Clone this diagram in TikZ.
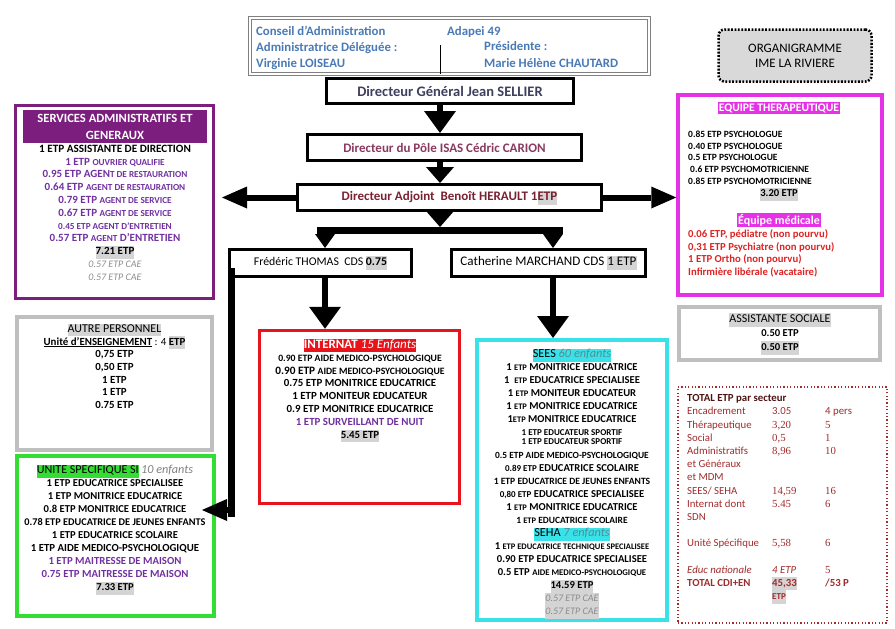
\documentclass[tikz,border=0pt]{standalone}
\usepackage{fontspec}
\setmainfont{Carlito}
\newfontfamily\numfont{Liberation Serif}
\usetikzlibrary{arrows.meta, positioning}

\definecolor{adminpurple}{HTML}{7B1E7E}
\definecolor{txtpurple}{HTML}{7030A0}
\definecolor{magentabox}{HTML}{E632E6}
\definecolor{internatred}{HTML}{E8141B}
\definecolor{seescyan}{HTML}{38E2E8}
\definecolor{seesteal}{HTML}{4F8F96}
\definecolor{unitegreen}{HTML}{33DD33}
\definecolor{boxgray}{HTML}{BFBFBF}
\definecolor{hlgray}{HTML}{D4D4D4}
\definecolor{conseilblue}{HTML}{4A7AB5}
\definecolor{dgslate}{HTML}{3F3F5E}
\definecolor{polemauve}{HTML}{8A3A60}
\definecolor{adjred}{HTML}{7A2131}
\definecolor{medred}{HTML}{DD2323}
\definecolor{totred}{HTML}{A22B2B}
\definecolor{totdark}{HTML}{4D1414}
\definecolor{caegray}{HTML}{8C8C8C}

\newcommand{\fs}[2]{\fontsize{#1}{#2}\selectfont}
\newcommand{\hl}[2][hlgray]{{\setlength{\fboxsep}{0pt}\colorbox{#1}{\strut #2}}}
\newcommand{\sm}[1]{{\fs{9.2}{13}#1}}
\newcommand{\etp}{{\fs{8.5}{13}ETP}}
\newcommand{\cae}{{\color{caegray}\mdseries\itshape\fs{10}{13}0.57 ETP CAE}}
\newcommand{\trow}[3]{\makebox[85pt][l]{#1}\makebox[53pt][l]{#2}#3}

\begin{document}
\begin{tikzpicture}[x=1pt, y=-1pt,
  blackbox/.style={draw, line width=3pt, fill=white, inner sep=0pt, font=\fs{13}{14}\bfseries},
  colbox/.style={draw=#1, line width=3.5pt, inner sep=0pt},
  lst/.style={align=center, inner sep=0pt, anchor=north, font=\fs{10.6}{13}\bfseries},
  fatarrow/.style={line width=6pt, -{Triangle[width=32pt,length=22pt,line width=0pt]}},
  midarrow/.style={line width=6pt, -{Triangle[width=28pt,length=16pt,line width=0pt]}},
  smallarrow/.style={line width=6pt, -{Triangle[width=20pt,length=14pt,line width=0pt]}},
  sidearrow/.style={line width=6pt, -{Triangle[width=22pt,length=25pt,line width=0pt]}},
  fatline/.style={line width=7pt},
]
\useasboundingbox (0,0) rectangle (895,629);

% Conseil d'administration
\node[draw=gray, double=white, double distance=2pt, line width=0.8pt, minimum width=399, minimum height=56] (conseil) at (449.5,46) {};
\node[anchor=north west, align=left, inner sep=0pt, text=conseilblue, font=\fs{12.8}{16}\bfseries] (conseilL) at (256,23.6) {\strut Conseil d’Administration\\Administratrice Déléguée :\\Virginie LOISEAU};
\node[anchor=base west, inner sep=0pt, text=conseilblue, font=\fs{12.8}{16}\bfseries] (adapei) at (447,35) {Adapei 49};
\node[anchor=base west, inner sep=0pt, text=conseilblue, font=\fs{12.8}{16}\bfseries] (presid) at (484,50) {Présidente :};
\node[anchor=base west, inner sep=0pt, text=conseilblue, font=\fs{12.8}{16}\bfseries] (presnom) at (484,67) {Marie Hélène CHAUTARD};

% Direction
\node[blackbox, minimum width=247, minimum height=25, text=dgslate, font=\fs{14.5}{15}\bfseries] (dg) at (450,91) {Directeur Général Jean SELLIER};
\node[blackbox, minimum width=274, minimum height=26, text=polemauve] (pole) at (444.5,147.5) {Directeur du Pôle ISAS Cédric CARION};
\node[blackbox, minimum width=304, minimum height=26, text=adjred] (adjoint) at (449.5,197.5) {Directeur Adjoint\ \ Benoît HERAULT 1\hl{ETP}};
\node[blackbox, minimum width=182, minimum height=27, font=\fs{11.8}{14}] (thomas) at (320.5,263) {Frédéric THOMAS\ \ CDS \hl{\bfseries 0.75}};
\node[blackbox, minimum width=194, minimum height=27, font=\fs{13.1}{14}] (marchand) at (548.5,263) {Catherine MARCHAND CDS \hl{1 ETP}};

\draw (440,45) -- (conseil.south -| 440,0);

% Axes
\coordinate (axis) at (440,0);
\coordinate (split) at (440,230);
\coordinate (barW) at (317,230);
\coordinate (barE) at (563,230);
\coordinate (tcol) at (325,0);
\coordinate (mcol) at (553,0);
\coordinate (elbow) at (231,510);

% Services administratifs
\node[colbox=adminpurple, line width=3pt, minimum width=198, minimum height=193] (admin) at (114.5,202) {};
\node[fill=adminpurple, text=white, minimum width=184, minimum height=33, inner sep=0pt, align=center, font=\fs{12.6}{17}\bfseries] (adminhead) at (115,126.5) {SERVICES ADMINISTRATIFS ET\\GENERAUX};
\node[lst, text=txtpurple, font=\fs{11}{12.8}\bfseries] (adminlist) at (115,143.2) {\strut{\color{black}\fs{11.2}{12.8}1 ETP ASSISTANTE DE DIRECTION}\\
  1 ETP \sm{OUVRIER QUALIFIE}\\
  0.95 ETP AGEN\sm{T DE RESTAURATION}\\
  0.64 ETP \sm{AGENT DE RESTAURATION}\\
  0.79 ETP \sm{AGENT DE SERVICE}\\
  0.67 ETP \sm{AGENT DE SERVICE}\\
  \sm{0.45 ETP AGENT D’ENTRETIEN}\\
  0.57 ETP \sm{AGENT} D’ENTRETIEN\\
  {\color{black}\hl{7.21 ETP}}\\
  \cae\\
  \cae};

% Autre personnel
\node[colbox=boxgray, line width=4pt, minimum width=195, minimum height=133] (autre) at (114.5,383.5) {};
\node[lst, font=\fs{10.9}{12.7}\bfseries] (autrelist) at (114.5,323.3) {\strut\hl{\mdseries\fs{12}{12.7}AUTRE PERSONNEL}\\
  \underline{Unité d’ENSEIGNEMENT}{\mdseries\ : 4 }\hl{ETP}\\
  0,75 ETP\\ 0,50 ETP\\ 1 ETP\\ 1 ETP\\ 0.75 ETP};

% Unite specifique
\node[colbox=unitegreen, line width=4pt, minimum width=197, minimum height=160] (unite) at (115.5,536) {};
\node[lst] (unitelist) at (115,464.4) {\strut\hl[unitegreen]{\mdseries\fs{12.1}{13}UNITE SPECIFIQUE SI} {\color{gray}\mdseries\itshape\fs{12.2}{13}10 enfants}\\
  1 ETP EDUCATRICE SPECIALISEE\\
  1 ETP MONITRICE EDUCATRICE\\
  0.8 ETP MONITRICE EDUCATRICE\\
  {\fs{10.3}{13}0.78 ETP EDUCATRICE DE JEUNES ENFANTS}\\
  1 ETP EDUCATRICE SCOLAIRE\\
  {\fs{10.8}{13}1 ETP AIDE MEDICO-PSYCHOLOGIQUE}\\
  {\color{txtpurple}\fs{10.8}{13}1 ETP MAITRESSE DE MAISON}\\
  {\color{txtpurple}\fs{10.8}{13}0.75 ETP MAITRESSE DE MAISON}\\
  \hl{7.33 ETP}};

% Internat
\node[colbox=internatred, minimum width=200, minimum height=173] (internat) at (359.5,417) {};
\node[lst, font=\fs{10.9}{12.9}\bfseries] (internatlist) at (360,339) {\strut\hl[internatred]{\color{white}\fs{13}{13}INTERNAT {\mdseries\itshape 15 Enfants}}\\
  {\fs{9.7}{13}0.90 ETP AIDE MEDICO-PSYCHOLOGIQUE}\\
  {\fs{11.3}{13}0.90 ETP} {\fs{9.7}{13}AIDE MEDICO-PSYCHOLOGIQUE}\\
  0.75 ETP MONITRICE EDUCATRICE\\
  1 ETP MONITEUR EDUCATEUR\\
  0.9 ETP MONITRICE EDUCATRICE\\
  {\color{txtpurple}1 ETP SURVEILLANT DE NUIT}\\
  \hl{5.45 ETP}};

% SEES / SEHA
\node[colbox=seescyan, line width=4pt, minimum width=190, minimum height=280] (sees) at (572,480) {};
\node[lst] (seeslist) at (572,348.3) {\strut\hl[seescyan]{\fs{12.3}{13}\mdseries SEES {\itshape\color{seesteal}60 enfants}}\\
  1 \etp\ MONITRICE EDUCATRICE\\
  1\ \ \etp\ EDUCATRICE SPECIALISEE\\
  1 \etp\ MONITEUR EDUCATEUR\\
  1 \etp\ MONITRICE EDUCATRICE\\
  1\etp\ MONITRICE EDUCATRICE\\
  {\fs{9}{13}1 ETP EDUCATEUR SPORTIF}\\[-4pt]
  {\fs{9}{13}1 ETP EDUCATEUR SPORTIF}\\[1pt]
  {\fs{9.4}{13}0.5 ETP AIDE MEDICO-PSYCHOLOGIQUE}\\
  {\fs{9}{13}0.89 ETP} EDUCATRICE SCOLAIRE\\
  {\fs{9.6}{13}1 ETP EDUCATRICE DE JEUNES ENFANTS}\\
  {\fs{9}{13}0,80 ETP} EDUCATRICE SPECIALISEE\\
  1 \etp\ MONITRICE EDUCATRICE\\
  {\fs{9.5}{13}1 \etp\ EDUCATRICE SCOLAIRE}\\
  \hl[seescyan]{\fs{12.3}{13}\mdseries SEHA {\itshape\color{seesteal}7 enfants}}\\
  1 {\fs{8.5}{13}ETP EDUCATRICE TECHNIQUE SPECIALISEE}\\
  0.90 ETP EDUCATRICE SPECIALISEE\\
  0.5 ETP {\fs{8.7}{13}AIDE MEDICO-PSYCHOLOGIQUE}\\
  \hl{14.59 ETP}\\
  \hl{\cae}\\
  \hl{\cae}};

% Organigramme
\node[draw, fill=gray!30, rounded corners=6pt, line width=2.5pt, dash pattern=on 1.8pt off 1.6pt, minimum width=153, minimum height=52, align=center, font=\fs{12.9}{15}] (title) at (795,55.5) {ORGANIGRAMME\\IME LA RIVIERE};

% Equipe therapeutique
\node[colbox=magentabox, minimum width=204, minimum height=200] (therap) at (780,195) {};
\node[fill=magentabox, text=white, inner sep=1pt, font=\fs{11.6}{13}\bfseries] (theraphead) at (779,108) {EQUIPE THERAPEUTIQUE};
\node[lst, anchor=north west, align=left, font=\fs{9.5}{11.8}\bfseries] (theraplist) at (688,128.8) {\strut 0.85 ETP PSYCHOLOGUE\\
  0.40 ETP PSYCHOLOGUE\\
  0.5 ETP PSYCHOLOGUE\\
  \hspace{2pt}0.6 ETP PSYCHOMOTRICIENNE\\
  0.85 ETP PSYCHOMOTRICIENNE};
\node[inner sep=0pt, font=\fs{10.6}{13}\bfseries] (theraptot) at (779,194) {\hl{3.20 ETP}};
\node[fill=magentabox, text=white, inner sep=1pt, font=\fs{12}{14}\bfseries] (medhead) at (779,220) {Équipe médicale};
\node[lst, anchor=north west, align=left, text=medred, font=\fs{10.7}{12.7}\bfseries] (medlist) at (688,228.4) {\strut 0.06 ETP, pédiatre (non pourvu)\\
  0,31 ETP Psychiatre (non pourvu)\\
  1 ETP Ortho (non pourvu)\\
  Infirmière libérale (vacataire)};

% Assistante sociale
\node[colbox=boxgray, line width=4pt, minimum width=201, minimum height=53] (social) at (779.5,333.5) {};
\node[lst, font=\fs{10.6}{14}\bfseries] (sociallist) at (780,312.6) {\strut\hl{\mdseries\fs{12}{14}ASSISTANTE SOCIALE}\\ 0.50 ETP\\ \hl{0.50 ETP}};

% Total
\node[draw=totred, line width=1.6pt, dash pattern=on 1.2pt off 2.2pt, minimum width=209, minimum height=236] (total) at (782.5,505) {};
\node[lst, anchor=north west, align=left, text=totred, font=\fs{10.8}{13.2}] (totallist) at (687,392.2) {\strut{\bfseries\color{totdark}TOTAL ETP par secteur}\\
  \trow{Encadrement}{3.05}{4 pers}\\
  \trow{Thérapeutique}{\numfont 3,20}{\numfont 5}\\
  \trow{Social}{\numfont 0,5}{\numfont 1}\\
  \trow{Administratifs}{\numfont 8,96}{\numfont 10}\\
  et Généraux\\
  et MDM\\
  \trow{SEES/ SEHA}{\numfont 14,59}{\numfont 16}\\
  \trow{Internat dont}{\numfont 5.45}{\numfont 6}\\
  SDN\\[13.2pt]
  \trow{Unité Spécifique}{\numfont 5,58}{\numfont 6}\\[13.2pt]
  \trow{\itshape Educ nationale}{\itshape 4 ETP}{\numfont 5}\\
  {\bfseries\trow{TOTAL CDI+EN}{\hl{45,33}}{/53 P}}\\
  \makebox[85pt]{}{\bfseries\fs{9}{13.2}\hl{ETP}}};

% Arrows
\draw[fatarrow] (dg.south -| axis) -- (pole.north -| axis);
\draw[midarrow] (pole.south -| axis) -- (adjoint.north -| axis);
\draw[sidearrow] (adjoint.west) -- ([xshift=7pt]admin.east |- adjoint.west);
\draw[sidearrow] (adjoint.east) -- (therap.west |- adjoint.east);
\draw[fatline] (barW) -- (barE);
\draw[midarrow] (adjoint.south -| axis) -- ([yshift=3pt]split);
\draw[smallarrow] ([xshift=8pt]barW) -- ([xshift=8pt]barW |- thomas.north);
\draw[smallarrow] ([xshift=-10pt]barE) -- ([xshift=-10pt]barE |- marchand.north);
\draw[fatarrow] (thomas.south -| tcol) -- (internat.north -| tcol);
\draw[fatarrow] (marchand.south -| mcol) -- (sees.north -| mcol);
\draw[fatline] ([xshift=3pt,yshift=10pt]thomas.south west) -- ([yshift=-7pt]elbow);
\draw[sidearrow] (elbow) -- ([xshift=-14pt]unite.east |- elbow);

\end{tikzpicture}
\end{document}
